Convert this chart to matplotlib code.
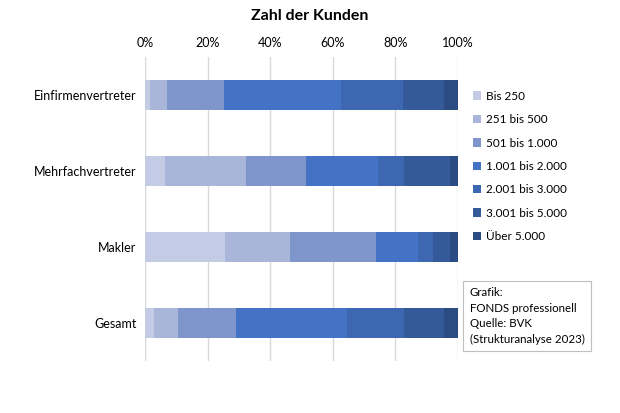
import matplotlib.pyplot as plt
import numpy as np
from matplotlib.patches import Rectangle

plt.rcParams['font.family'] = ['Lato', 'DejaVu Sans']

# Data (shares in %)
categories = ['Einfirmenvertreter', 'Mehrfachvertreter', 'Makler', 'Gesamt']
series_names = ['Bis 250', '251 bis 500', '501 bis 1.000', '1.001 bis 2.000',
                '2.001 bis 3.000', '3.001 bis 5.000', 'Über 5.000']
shares = [
    [1.6, 5.3, 18.3, 37.4, 19.7, 13.3, 4.4],   # Einfirmenvertreter
    [6.4, 25.9, 19.1, 22.9, 8.4, 14.7, 2.6],   # Mehrfachvertreter
    [25.5, 20.9, 27.4, 13.4, 4.8, 5.4, 2.6],   # Makler
    [3.0, 7.4, 18.7, 35.3, 18.4, 12.8, 4.4],   # Gesamt
]
colors = ['#c3cbe5', '#a9b6da', '#7f96cc', '#4472c4', '#3d67b0', '#345a9a', '#2b4c82']
tick_values = [0, 20, 40, 60, 80, 100]

fig = plt.figure(figsize=(6.2, 4.13), dpi=100)
ax = fig.add_axes([145 / 620, 1 - 361 / 413, 313 / 620, 304 / 413])

data = np.array(shares)
y = np.arange(len(categories))
left = np.zeros(len(categories))
handles = []
for i, name in enumerate(series_names):
    h = ax.barh(y, data[:, i], left=left, height=0.4, color=colors[i],
                label=name, edgecolor='none', zorder=3)
    handles.append(h)
    left += data[:, i]

ax.set_xlim(0, 100)
ax.set_ylim(len(categories) - 0.5, -0.5)
ax.set_yticks(y)
ax.set_yticklabels(categories, fontsize=9)
ax.xaxis.tick_top()
ax.set_xticks(tick_values)
ax.set_xticklabels([f'{v}%' for v in tick_values], fontsize=9)
ax.tick_params(length=0, pad=6)
ax.grid(axis='x', color='#d9d9d9', linewidth=1, zorder=0)
for s in ax.spines.values():
    s.set_visible(False)

fig.text(0.5, 1 - 16 / 413, 'Zahl der Kunden', ha='center', va='center',
         fontsize=11.5, fontweight='bold')

leg = fig.legend(handles=handles, loc='upper left', bbox_to_anchor=(468 / 620, 1 - 86 / 413),
                 frameon=False, fontsize=8.5, handlelength=0.7, handleheight=0.7,
                 handletextpad=0.4, labelspacing=1.05, borderaxespad=0)

box = Rectangle((463 / 620, 1 - 351 / 413), 128 / 620, 70 / 413, transform=fig.transFigure,
                facecolor='white', edgecolor='#bfbfbf', linewidth=0.8)
fig.patches.append(box)
fig.text(470 / 620, 1 - 287 / 413,
         'Grafik:\nFONDS professionell\nQuelle: BVK\n(Strukturanalyse 2023)',
         ha='left', va='top', fontsize=8.3, linespacing=1.5)

fig.savefig('out.png', dpi=100)
